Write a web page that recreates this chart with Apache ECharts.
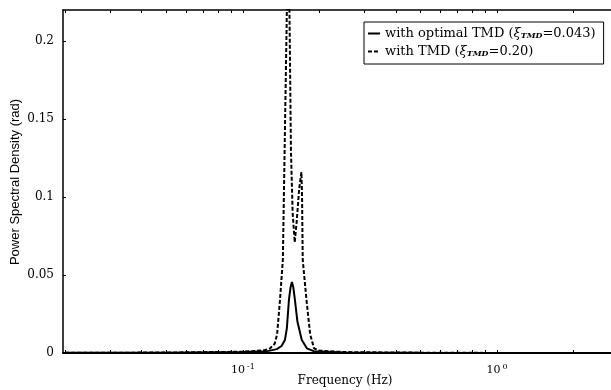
<!DOCTYPE html>
<html><head><meta charset="utf-8">
<script src="https://cdn.jsdelivr.net/npm/echarts@6/dist/echarts.min.js"></script>
<style>html,body{margin:0;padding:0;background:#fff}#c{width:611px;height:390px}</style>
</head><body><div id="c"></div>
<script>
// Frequency (Hz) and PSD values
const freqSolid = [0.020, 0.050, 0.100, 0.125, 0.136, 0.142, 0.1464, 0.149, 0.1518, 0.154, 0.156, 0.158, 0.1603, 0.164, 0.1706, 0.1786, 0.190, 0.250, 0.500, 1.0, 2.81];
const psdSolid  = [0.0001, 0.0002, 0.0006, 0.0012, 0.0025, 0.0045, 0.0083, 0.016, 0.034, 0.042, 0.0455, 0.042, 0.034, 0.020, 0.0083, 0.003, 0.0012, 0.0004, 0.0001, 0.00003, 0.00001];
const freqDashed = [0.020, 0.050, 0.100, 0.122, 0.128, 0.1335, 0.1364, 0.140, 0.1437, 0.146, 0.149, 0.151, 0.153, 0.1546, 0.157, 0.160, 0.163, 0.1665, 0.170, 0.171, 0.172, 0.178, 0.184, 0.1906, 0.200, 0.250, 0.500, 1.0, 2.81];
const psdDashed  = [0.0001, 0.0003, 0.0008, 0.0018, 0.003, 0.006, 0.012, 0.034, 0.060, 0.13, 0.22, 0.28, 0.20, 0.13, 0.09, 0.071, 0.085, 0.105, 0.116, 0.100, 0.060, 0.034, 0.012, 0.003, 0.0015, 0.0006, 0.0002, 0.00005, 0.00002];
const yTicks = [0, 0.05, 0.1, 0.15, 0.2];
const xLabelFreqs = [0.1, 1];
const xMinorFreqs = [0.02,0.03,0.04,0.05,0.06,0.07,0.08,0.09,0.1,0.2,0.3,0.4,0.5,0.6,0.7,0.8,0.9,1,2];
const xRange = [0.0196, 2.81];
const yRange = [0, 0.22];

const lg = v => Math.log10(v);
const pairs = (f, p) => f.map((v, i) => [lg(v), p[i]]);
const serif = 'DejaVu Serif';

const chart = echarts.init(document.getElementById('c'), null, {renderer: 'canvas'});
const xCommon = {
  type: 'value', min: lg(xRange[0]), max: lg(xRange[1]),
  axisTick: {show: true, inside: true, length: 3, customValues: xMinorFreqs.map(lg), lineStyle: {color: '#000'}},
  splitLine: {show: false}
};
chart.setOption({
  animation: false,
  grid: {left: 63, right: 0, top: 10, bottom: 37},
  xAxis: [
    Object.assign({}, xCommon, {
      position: 'bottom',
      axisLine: {show: true, onZero: false, lineStyle: {color: '#000', width: 2}},
      axisLabel: {
        show: true, margin: 10, customValues: xLabelFreqs.map(lg),
        formatter: v => '{b|10}{s|' + Math.round(v) + '}',
        rich: {
          b: {fontFamily: serif, fontSize: 11, color: '#000'},
          s: {fontFamily: serif, fontSize: 8, color: '#000', verticalAlign: 'top', padding: [0, 0, 7, 2]}
        }
      }
    }),
    Object.assign({}, xCommon, {position: 'top',
      axisLine: {show: true, onZero: false, lineStyle: {color: '#000', width: 1.5}},
      axisLabel: {show: false}})
  ],
  yAxis: {
    type: 'value', min: yRange[0], max: yRange[1], position: 'left',
    axisLine: {show: true, onZero: false, lineStyle: {color: '#000', width: 1.5}},
    axisTick: {show: true, inside: true, length: 3, customValues: yTicks, lineStyle: {color: '#000'}},
    axisLabel: {show: true, margin: 9, customValues: yTicks, formatter: v => String(+v.toFixed(2)),
      fontFamily: serif, fontSize: 12, color: '#000'},
    splitLine: {show: false}
  },
  legend: {
    orient: 'vertical', left: 364, top: 22, itemWidth: 12, itemHeight: 8, itemGap: 5,
    padding: [5, 8, 6, 3], borderColor: '#000', borderWidth: 1, backgroundColor: '#fff',
    itemStyle: {opacity: 0},
    data: ['optimal', 'tmd'],
    formatter: name => name === 'optimal'
      ? '{t|with optimal TMD (}{x|ξ}{sub|TMD}{t|=0.043)}'
      : '{t|with TMD (}{x|ξ}{sub|TMD}{t|=0.20)}',
    textStyle: {
      rich: {
        t: {fontFamily: serif, fontSize: 13, color: '#000'},
        x: {fontFamily: serif, fontSize: 13, fontStyle: 'italic', color: '#000'},
        sub: {fontFamily: serif, fontSize: 8, fontStyle: 'italic', fontWeight: 'bold', color: '#000', verticalAlign: 'bottom', padding: [5, 0, 0, 0]}
      }
    }
  },
  graphic: [
    {type: 'text', x: 345, y: 381, style: {text: 'Frequency (Hz)', font: '12px "DejaVu Serif"', fill: '#000', align: 'center', verticalAlign: 'middle'}},
    {type: 'text', x: 15, y: 182, rotation: Math.PI / 2, style: {text: 'Power Spectral Density (rad)', font: '13px "Liberation Sans"', fill: '#000', align: 'center', verticalAlign: 'middle'}}
  ],
  series: [
    {name: 'optimal', type: 'line', data: pairs(freqSolid, psdSolid), showSymbol: false, symbol: 'none', clip: true,
      lineStyle: {color: '#000', width: 2, type: 'solid'}, itemStyle: {color: '#000'}},
    {name: 'tmd', type: 'line', data: pairs(freqDashed, psdDashed), showSymbol: false, symbol: 'none', clip: true,
      lineStyle: {color: '#000', width: 2, type: [4, 2]}, itemStyle: {color: '#000'}}
  ]
});
</script></body></html>
